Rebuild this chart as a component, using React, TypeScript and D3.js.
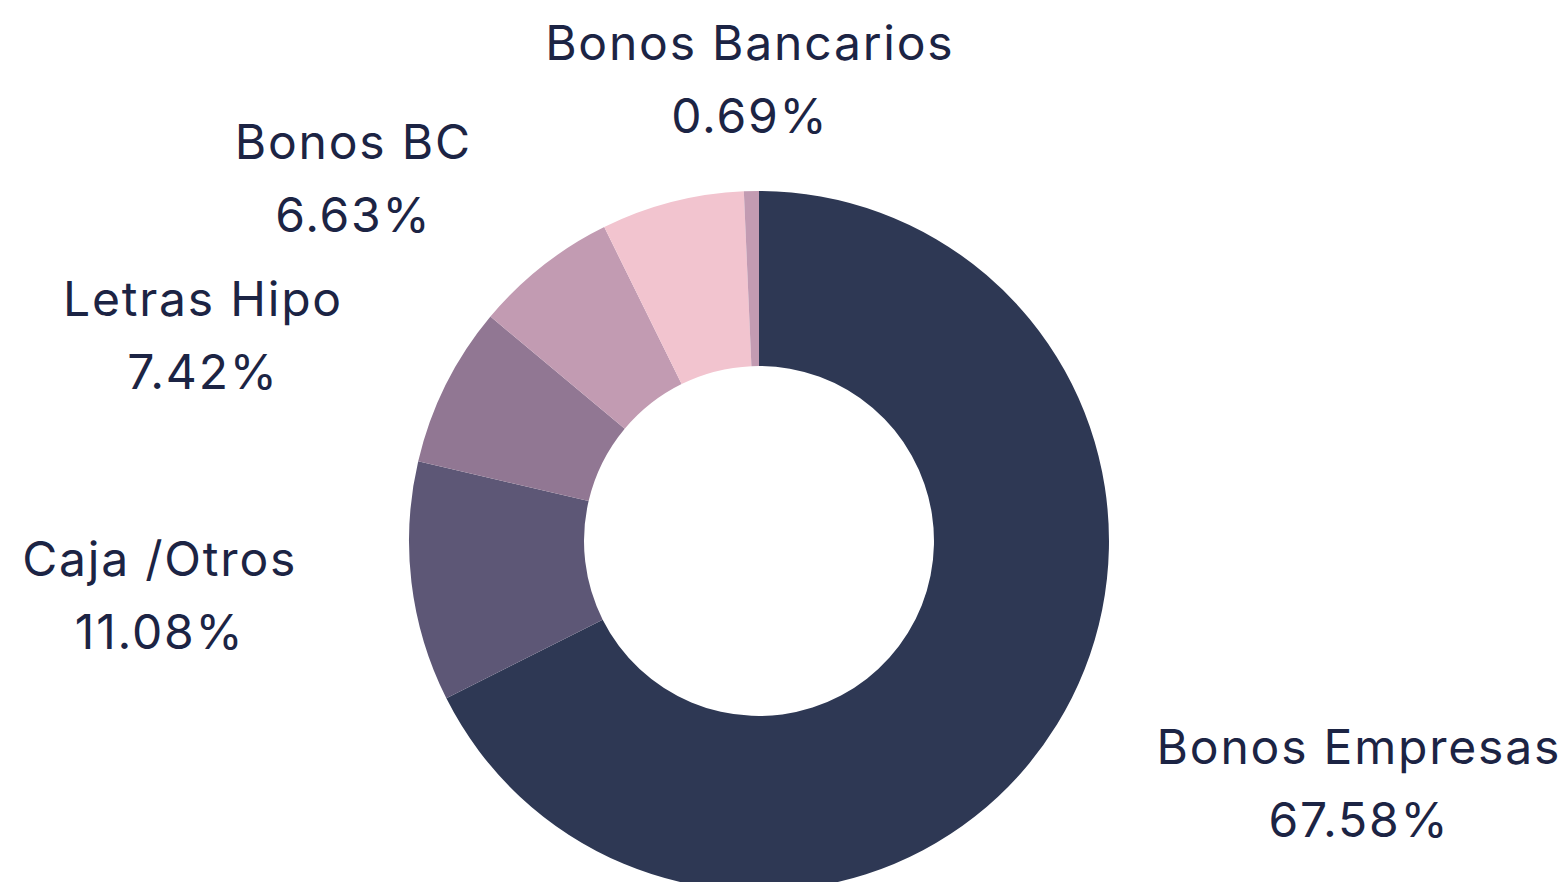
import React from "react";
import * as d3 from "d3";

const categories = ["Bonos Empresas", "Caja /Otros", "Letras Hipo", "Bonos BC", "", "Bonos Bancarios"];
const values = [67.58, 11.08, 7.42, 6.63, 6.6, 0.69];
const showLabel = [true, true, true, true, false, true];
const colors = ["#2e3854", "#5d5776", "#917793", "#c29bb2", "#f2c4cf", "#c29bb2"];

const W = 1568;
const H = 882;
const CX = 759;
const CY = 541;
const R_OUT = 350;
const R_IN = 175;
const FONT = "Inter, 'Noto Sans', sans-serif";
const FS = 48;
const LS = 1.8;
const LH = 73;

function measure(text: string): number {
  const c = document.createElement("canvas");
  const ctx = c.getContext("2d");
  if (!ctx) return text.length * (FS * 0.56 + LS);
  ctx.font = `${FS}px Inter`;
  return ctx.measureText(text).width + text.length * LS;
}

export default function App() {
  const pie = d3.pie<number>().sort(null).value((d) => d)(values);
  const arc = d3.arc<d3.PieArcDatum<number>>().innerRadius(R_IN).outerRadius(R_OUT);
  const fmt = (v: number) => v.toFixed(2) + "%";

  return (
    <svg width={W} height={H} style={{ position: "absolute", left: 0, top: 0, display: "block", background: "#fff" }}>
      <g transform={`translate(${CX},${CY})`}>
        {pie.map((p, i) => (
          <path key={i} d={arc(p) || ""} fill={colors[i]} />
        ))}
      </g>
      {pie.map((p, i) => {
        if (!showLabel[i]) return null;
        const a = (p.startAngle + p.endAngle) / 2;
        const s = Math.sin(a);
        const c = -Math.cos(a);
        const pct = fmt(values[i]);
        const w = Math.max(measure(categories[i]), measure(pct));
        const m = Math.sign(s) * Math.max(0, Math.min(1, (Math.abs(s) - 0.05) * 2));
        const x = CX + s * 466 + (m * w) / 2 + LS / 2;
        const yc = CY + c * 462;
        const b1 = yc - 19;
        return (
          <text key={i} textAnchor="middle" fontFamily={FONT} fontSize={FS} letterSpacing={LS} fill="#1c2444">
            <tspan x={x} y={b1}>{categories[i]}</tspan>
            <tspan x={x} y={b1 + LH}>{pct}</tspan>
          </text>
        );
      })}
    </svg>
  );
}
